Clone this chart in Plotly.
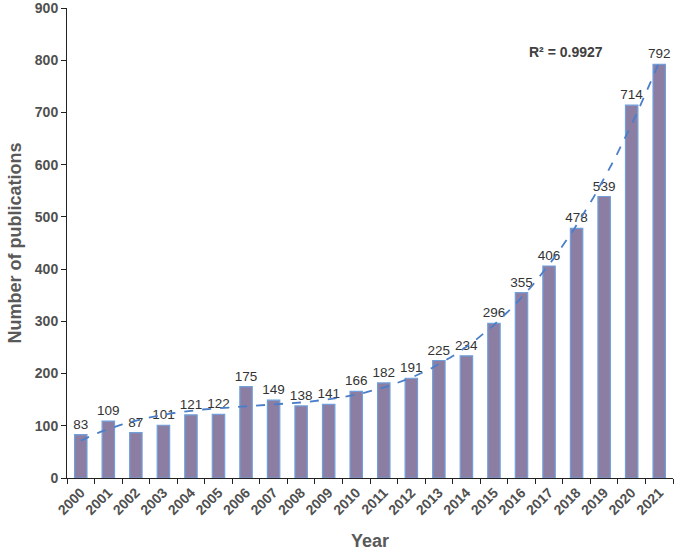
import numpy as np
import plotly.graph_objects as go

years = [str(y) for y in range(2000, 2022)]
pubs = [83, 109, 87, 101, 121, 122, 175, 149, 138, 141, 166, 182, 191, 225, 234, 296, 355, 406, 478, 539, 714, 792]
y_ticks = [0, 100, 200, 300, 400, 500, 600, 700, 800, 900]

# cubic polynomial trendline (as in Excel)
idx = np.arange(1, len(pubs) + 1)
coef = np.polyfit(idx, pubs, 3)
xs = np.linspace(1, len(pubs), 200)
trend = np.polyval(coef, xs)

fig = go.Figure()
fig.add_trace(go.Bar(
    x=idx, y=pubs, width=0.45,
    marker=dict(color="#8C7EA3", line=dict(color="#6FA0DC", width=1.2)),
    text=[str(v) for v in pubs], textposition="outside", constraintext="none",
    textfont=dict(family="Arial, Liberation Sans", size=13.5, color="#333333"),
    cliponaxis=False,
))
fig.add_trace(go.Scatter(
    x=xs, y=trend, mode="lines",
    line=dict(color="#4A7EC9", width=1.8, dash="dash"),
    hoverinfo="skip",
))
fig.add_annotation(x=18.6, y=816, text="<b>R² = 0.9927</b>", showarrow=False,
                   font=dict(family="Arial, Liberation Sans", size=14, color="#404040"))

fig.update_layout(
    width=675, height=551,
    margin=dict(l=67, r=2, t=8, b=73),
    plot_bgcolor="white", paper_bgcolor="white",
    showlegend=False,
    font=dict(family="Arial, Liberation Sans"),
)
fig.update_xaxes(
    range=[0.5, len(pubs) + 0.5], automargin=False,
    tickmode="array", tickvals=list(idx), ticktext=["<b>%s</b>" % y for y in years],
    tickangle=-45, ticks="", ticklabeloverflow="allow",
    showline=True, linecolor="#222222", linewidth=1,
    showgrid=False, zeroline=False,
    tickfont=dict(size=14, color="#505050"),
    title=dict(text="<b>Year</b>", font=dict(size=18, color="#595959"), standoff=18),
    minor=dict(tickmode="array", tickvals=[i + 0.5 for i in range(0, len(pubs) + 1)],
               ticks="outside", ticklen=5, tickcolor="#222222", showgrid=False),
)
fig.update_yaxes(
    range=[0, 900], automargin=False, tickmode="array", tickvals=y_ticks,
    ticktext=["<b>%d</b>" % v for v in y_ticks], ticklabeloverflow="allow",
    ticks="outside", ticklen=5, tickcolor="#222222",
    showline=True, linecolor="#222222", linewidth=1,
    showgrid=False, zeroline=False,
    tickfont=dict(size=14, color="#505050"),
    title=dict(text="<b>Number of publications</b>", font=dict(size=18, color="#595959"), standoff=8),
)
fig.write_html("out.html", config={"displayModeBar": False},
               post_script="document.body.style.margin='0';")
